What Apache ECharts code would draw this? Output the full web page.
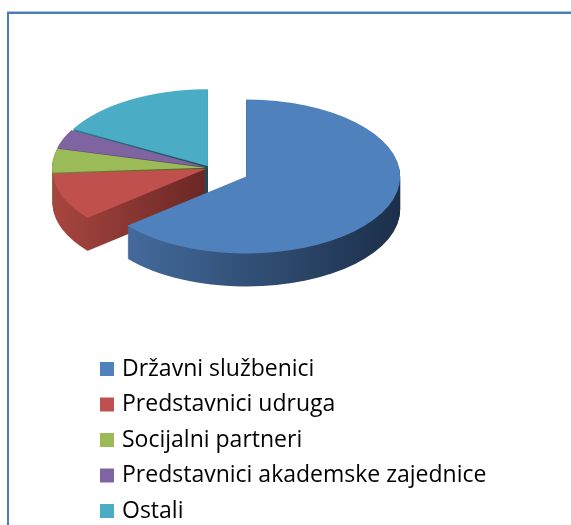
<!DOCTYPE html>
<html><head><meta charset="utf-8">
<script src="https://cdn.jsdelivr.net/npm/echarts@6/dist/echarts.min.js"></script>
<style>
html,body{margin:0;padding:0;background:#fff;}
#wrap{position:relative;width:571px;height:525px;overflow:hidden;}
#legendChart{position:absolute;left:0;top:0;width:571px;height:620px;}
#pieChart{position:absolute;left:0;top:0;width:571px;height:700px;transform:scaleY(0.5);transform-origin:0 0;}
</style></head><body>
<div id="wrap"><div id="legendChart"></div><div id="pieChart"></div></div>
<script>
const categories = ['Državni službenici','Predstavnici udruga','Socijalni partneri','Predstavnici akademske zajednice','Ostali'];
const values = [64, 10, 5, 4, 17];
const topColors = ['#4F81BD','#C0504D','#9BBB59','#8064A2','#4BACC6'];
const sideLeft  = ['#446b9c','#a8463f','#6f8a3a','#5e4a7a','#2d7a8e'];
const sideRight = ['#1c2f4a','#6a2725','#4a5e23','#3b2e4e','#1f4a55'];

const CX = 210, CY = 336, R = 154, DEPTH = 66, STEP = 2;
const groups = [
  {members:[1,2,3,4], offset:4},
  {members:[0], offset:40}
];

function layer(group, dy, isTop){
  return {
    type:'pie', center:[CX, CY + dy], radius:[0, R], startAngle:90, clockwise:true,
    selectedMode:'multiple', selectedOffset: group.offset,
    label:{show:false}, labelLine:{show:false}, emphasis:{disabled:true},
    silent:true, animation:false, avoidLabelOverlap:false,
    itemStyle:{borderWidth:0},
    data: categories.map((n,i)=>{
      const inG = group.members.indexOf(i) >= 0;
      let color = 'rgba(0,0,0,0)';
      if (inG) {
        color = isTop ? topColors[i] : new echarts.graphic.LinearGradient(0,0,1,0,[
          {offset:0,color:sideLeft[i]},{offset:1,color:sideRight[i]}]);
      }
      return {name:n, value:values[i], selected:inG, itemStyle:{color:color}};
    })
  };
}

const series = [];
groups.forEach(g=>{
  for (let d = DEPTH; d > 0; d -= STEP) series.push(layer(g, d, false));
  series.push(layer(g, 0, true));
});

const pie = echarts.init(document.getElementById('pieChart'), null, {renderer:'canvas'});
pie.setOption({animation:false, series: series});

const leg = echarts.init(document.getElementById('legendChart'), null, {renderer:'canvas'});
leg.setOption({
  animation:false,
  color: topColors,
  legend:{
    orient:'vertical', left:100, top:357, padding:0, itemWidth:14, itemHeight:14, itemGap:11.5,
    icon:'rect', selectedMode:false,
    textStyle:{fontFamily:'Open Sans', fontSize:23, color:'#000', lineHeight:24, padding:[0,0,0,3]},
    data: categories
  },
  series:[{type:'pie', radius:[0,0], center:[-100,-100], label:{show:false}, labelLine:{show:false}, silent:true,
    data: categories.map((n,i)=>({name:n, value:values[i]}))}],
  graphic:[
    {type:'line', shape:{x1:7, y1:11.5, x2:571, y2:11.5}, style:{stroke:'#a9c3e3', lineWidth:1}},
    {type:'line', shape:{x1:7, y1:13, x2:571, y2:13}, style:{stroke:'#4a7ebb', lineWidth:2}},
    {type:'line', shape:{x1:8, y1:12, x2:8, y2:620}, style:{stroke:'#4a7ebb', lineWidth:2}}
  ]
});
</script>
</body></html>
